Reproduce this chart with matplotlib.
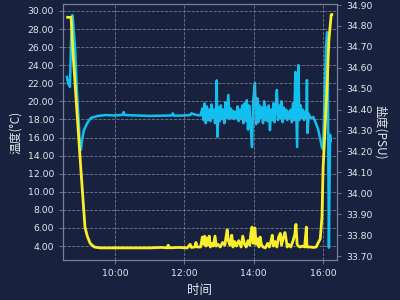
import matplotlib.pyplot as plt
from matplotlib.ticker import FuncFormatter, MultipleLocator

# temperature (yellow, left axis)
temp_time = ['08:38', '08:44', '08:47', '08:54', '09:01', '09:08', '09:12', '09:17', '09:24', '09:34',
             '10:00', '10:30', '11:00', '11:20', '11:30', '11:32', '11:34', '11:50', '12:05', '12:10', '12:12',
             '12:18', '12:20', '12:22', '12:28', '12:30', '12:31', '12:33', '12:35', '12:37', '12:39', '12:41',
             '12:43', '12:45', '12:48', '12:50', '12:53', '12:55', '12:58', '13:02', '13:06', '13:10',
             '13:12', '13:14', '13:16', '13:19', '13:22', '13:24', '13:27', '13:30', '13:34', '13:38', '13:41',
             '13:44', '13:47', '13:50', '13:53', '13:55', '13:57', '13:59', '14:00', '14:02', '14:04', '14:07',
             '14:09', '14:11', '14:13', '14:16', '14:20', '14:24', '14:27', '14:30', '14:32', '14:34', '14:37',
             '14:40', '14:43', '14:46', '14:48', '14:51', '14:54', '14:58', '15:00', '15:04', '15:08', '15:11',
             '15:13', '15:15', '15:17', '15:20', '15:24', '15:28', '15:31', '15:32', '15:34', '15:38', '15:43',
             '15:48', '15:51', '15:55', '15:58', '16:00', '16:03', '16:07', '16:10', '16:14', '16:15']
temp_vals = [29.3, 29.3, 25.7, 19.0, 12.4, 6.1, 5.1, 4.3, 3.9, 3.8,
             3.8, 3.8, 3.8, 3.85, 3.8, 4.1, 3.8, 3.85, 3.8, 4.2, 3.85,
             3.9, 4.4, 3.9, 3.9, 4.6, 5.0, 4.2, 5.1, 4.0, 4.9, 4.1,
             5.1, 3.9, 4.3, 4.0, 5.1, 4.0, 4.2, 3.9, 4.4, 4.1,
             5.0, 5.8, 4.6, 4.1, 5.2, 3.9, 4.5, 4.0, 4.6, 3.9, 5.1,
             4.2, 3.9, 4.6, 4.1, 5.4, 6.1, 4.3, 5.2, 6.0, 4.2, 4.8,
             3.9, 5.0, 4.2, 3.9, 3.8, 4.3, 3.9, 4.6, 5.2, 4.0, 4.5,
             3.9, 5.0, 5.4, 4.1, 4.9, 5.5, 3.9, 4.2, 3.9, 4.6, 5.3,
             6.4, 4.2, 4.0, 3.9, 4.0, 3.9, 6.1, 3.9, 3.9, 3.9, 3.85,
             3.9, 4.3, 4.8, 7.2, 12.7, 16.5, 22.0, 26.8, 29.6, 29.6]

# salinity (cyan, right axis)
sal_time = ['08:37', '08:39', '08:40', '08:42', '08:44', '08:46', '08:47', '08:51', '08:54', '08:58', '08:59',
            '09:01', '09:03', '09:06', '09:12', '09:18', '09:29', '09:43', '10:00', '10:13', '10:15', '10:17',
            '10:40', '11:00', '11:20', '11:38', '11:40', '11:42', '12:00', '12:10', '12:12', '12:20', '12:28',
            '12:31', '12:33', '12:35', '12:37', '12:39', '12:41', '12:43', '12:45', '12:47', '12:49', '12:51',
            '12:53', '12:55', '12:56', '12:57', '12:59', '13:01', '13:03', '13:05', '13:07', '13:09', '13:11',
            '13:13', '13:16', '13:18', '13:20', '13:22', '13:24', '13:26', '13:28', '13:30', '13:32', '13:34',
            '13:36', '13:38', '13:40', '13:42', '13:44', '13:46', '13:48', '13:50', '13:52', '13:54', '13:57',
            '13:59', '14:02', '14:04', '14:06', '14:08', '14:10', '14:12', '14:14', '14:16', '14:18', '14:20',
            '14:22', '14:24', '14:26', '14:28', '14:30', '14:32', '14:34', '14:36', '14:38', '14:40', '14:42',
            '14:44', '14:46', '14:48', '14:50', '14:52', '14:54', '14:56', '14:58', '15:00', '15:02', '15:04',
            '15:06', '15:08', '15:10', '15:12', '15:14', '15:15', '15:17', '15:19', '15:21', '15:23', '15:25',
            '15:27', '15:29', '15:31', '15:32', '15:33', '15:35', '15:38', '15:43', '15:48', '15:51', '15:55',
            '15:58', '16:00', '16:03', '16:05', '16:07', '16:08', '16:10', '16:12', '16:13']
sal_vals = [34.556, 34.522, 34.541, 34.508, 34.733, 34.852, 34.838, 34.685, 34.494, 34.302, 34.216,
            34.207, 34.255, 34.300, 34.336, 34.360, 34.369, 34.374, 34.372, 34.375, 34.388, 34.374,
            34.372, 34.370, 34.371, 34.372, 34.382, 34.371, 34.372, 34.374, 34.382, 34.375, 34.372,
            34.405, 34.350, 34.430, 34.335, 34.415, 34.350, 34.400, 34.345, 34.425, 34.360, 34.400,
            34.335, 34.415, 34.540, 34.270, 34.410, 34.345, 34.420, 34.355, 34.400, 34.335, 34.435,
            34.360, 34.470, 34.355, 34.405, 34.360, 34.395, 34.355, 34.390, 34.360, 34.415, 34.345,
            34.400, 34.355, 34.420, 34.335, 34.430, 34.345, 34.445, 34.305, 34.420, 34.350, 34.221,
            34.440, 34.527, 34.330, 34.455, 34.340, 34.420, 34.360, 34.410, 34.335, 34.440, 34.350,
            34.410, 34.345, 34.420, 34.302, 34.400, 34.350, 34.430, 34.340, 34.410, 34.494, 34.350,
            34.420, 34.360, 34.440, 34.340, 34.410, 34.360, 34.400, 34.350, 34.390, 34.360, 34.400,
            34.340, 34.430, 34.350, 34.580, 34.330, 34.221, 34.613, 34.350, 34.420, 34.360, 34.400,
            34.350, 34.390, 34.360, 34.541, 34.288, 34.380, 34.360, 34.365, 34.330, 34.310, 34.260,
            34.220, 34.210, 34.527, 34.700, 34.770, 34.600, 33.740, 34.280, 34.250]


def to_hours(t):
    hh, mm = t.split(':')
    return int(hh) + int(mm) / 60


bg = '#18223f'
fg = '#e6e8ef'
edge = '#7a8194'
cjk = ['Noto Sans CJK SC', 'DejaVu Sans']

fig = plt.figure(figsize=(4, 3), dpi=100, facecolor=bg)
ax = fig.add_axes([0.1575, 0.1333, 0.685, 0.8534], facecolor=bg)
ax2 = ax.twinx()

ax.plot([to_hours(t) for t in temp_time], temp_vals, color='#f8ef2a', lw=2.0, zorder=3)
ax2.plot([to_hours(t) for t in sal_time], sal_vals, color='#10c0f0', lw=1.8)
ax.set_zorder(ax2.get_zorder() + 1)
ax.patch.set_visible(False)
ax2.patch.set_facecolor(bg)

ax.set_xlim(8.5, 16.4)
ax.set_ylim(2.46, 30.77)
ax2.set_ylim(33.681, 34.905)
ax.set_xticks([10, 12, 14, 16])
ax.xaxis.set_major_formatter(FuncFormatter(lambda v, p: '%d:00' % v))
ax.yaxis.set_major_locator(MultipleLocator(2))
ax.yaxis.set_major_formatter(FuncFormatter(lambda v, p: '%.2f' % v))
ax2.yaxis.set_major_locator(MultipleLocator(0.1))
ax2.yaxis.set_major_formatter(FuncFormatter(lambda v, p: '%.2f' % v))

ax.grid(True, color='#8a90a3', ls='--', lw=0.6, alpha=0.8)
for a in (ax, ax2):
    a.tick_params(colors=edge, labelcolor=fg, labelsize=6.7, length=3, width=0.6)
    for s in a.spines.values():
        s.set_color(edge)
        s.set_linewidth(0.8)

ax.set_ylabel('温度(°C)', color=fg, fontsize=8.5, family=cjk, labelpad=4)
ax2.set_ylabel('盐度(PSU)', color=fg, fontsize=8.5, family=cjk, labelpad=1, rotation=270, va='bottom')
ax.set_xlabel('时间', color=fg, fontsize=9, family=cjk, labelpad=4)

fig.savefig('out.png', dpi=100, facecolor=bg)
